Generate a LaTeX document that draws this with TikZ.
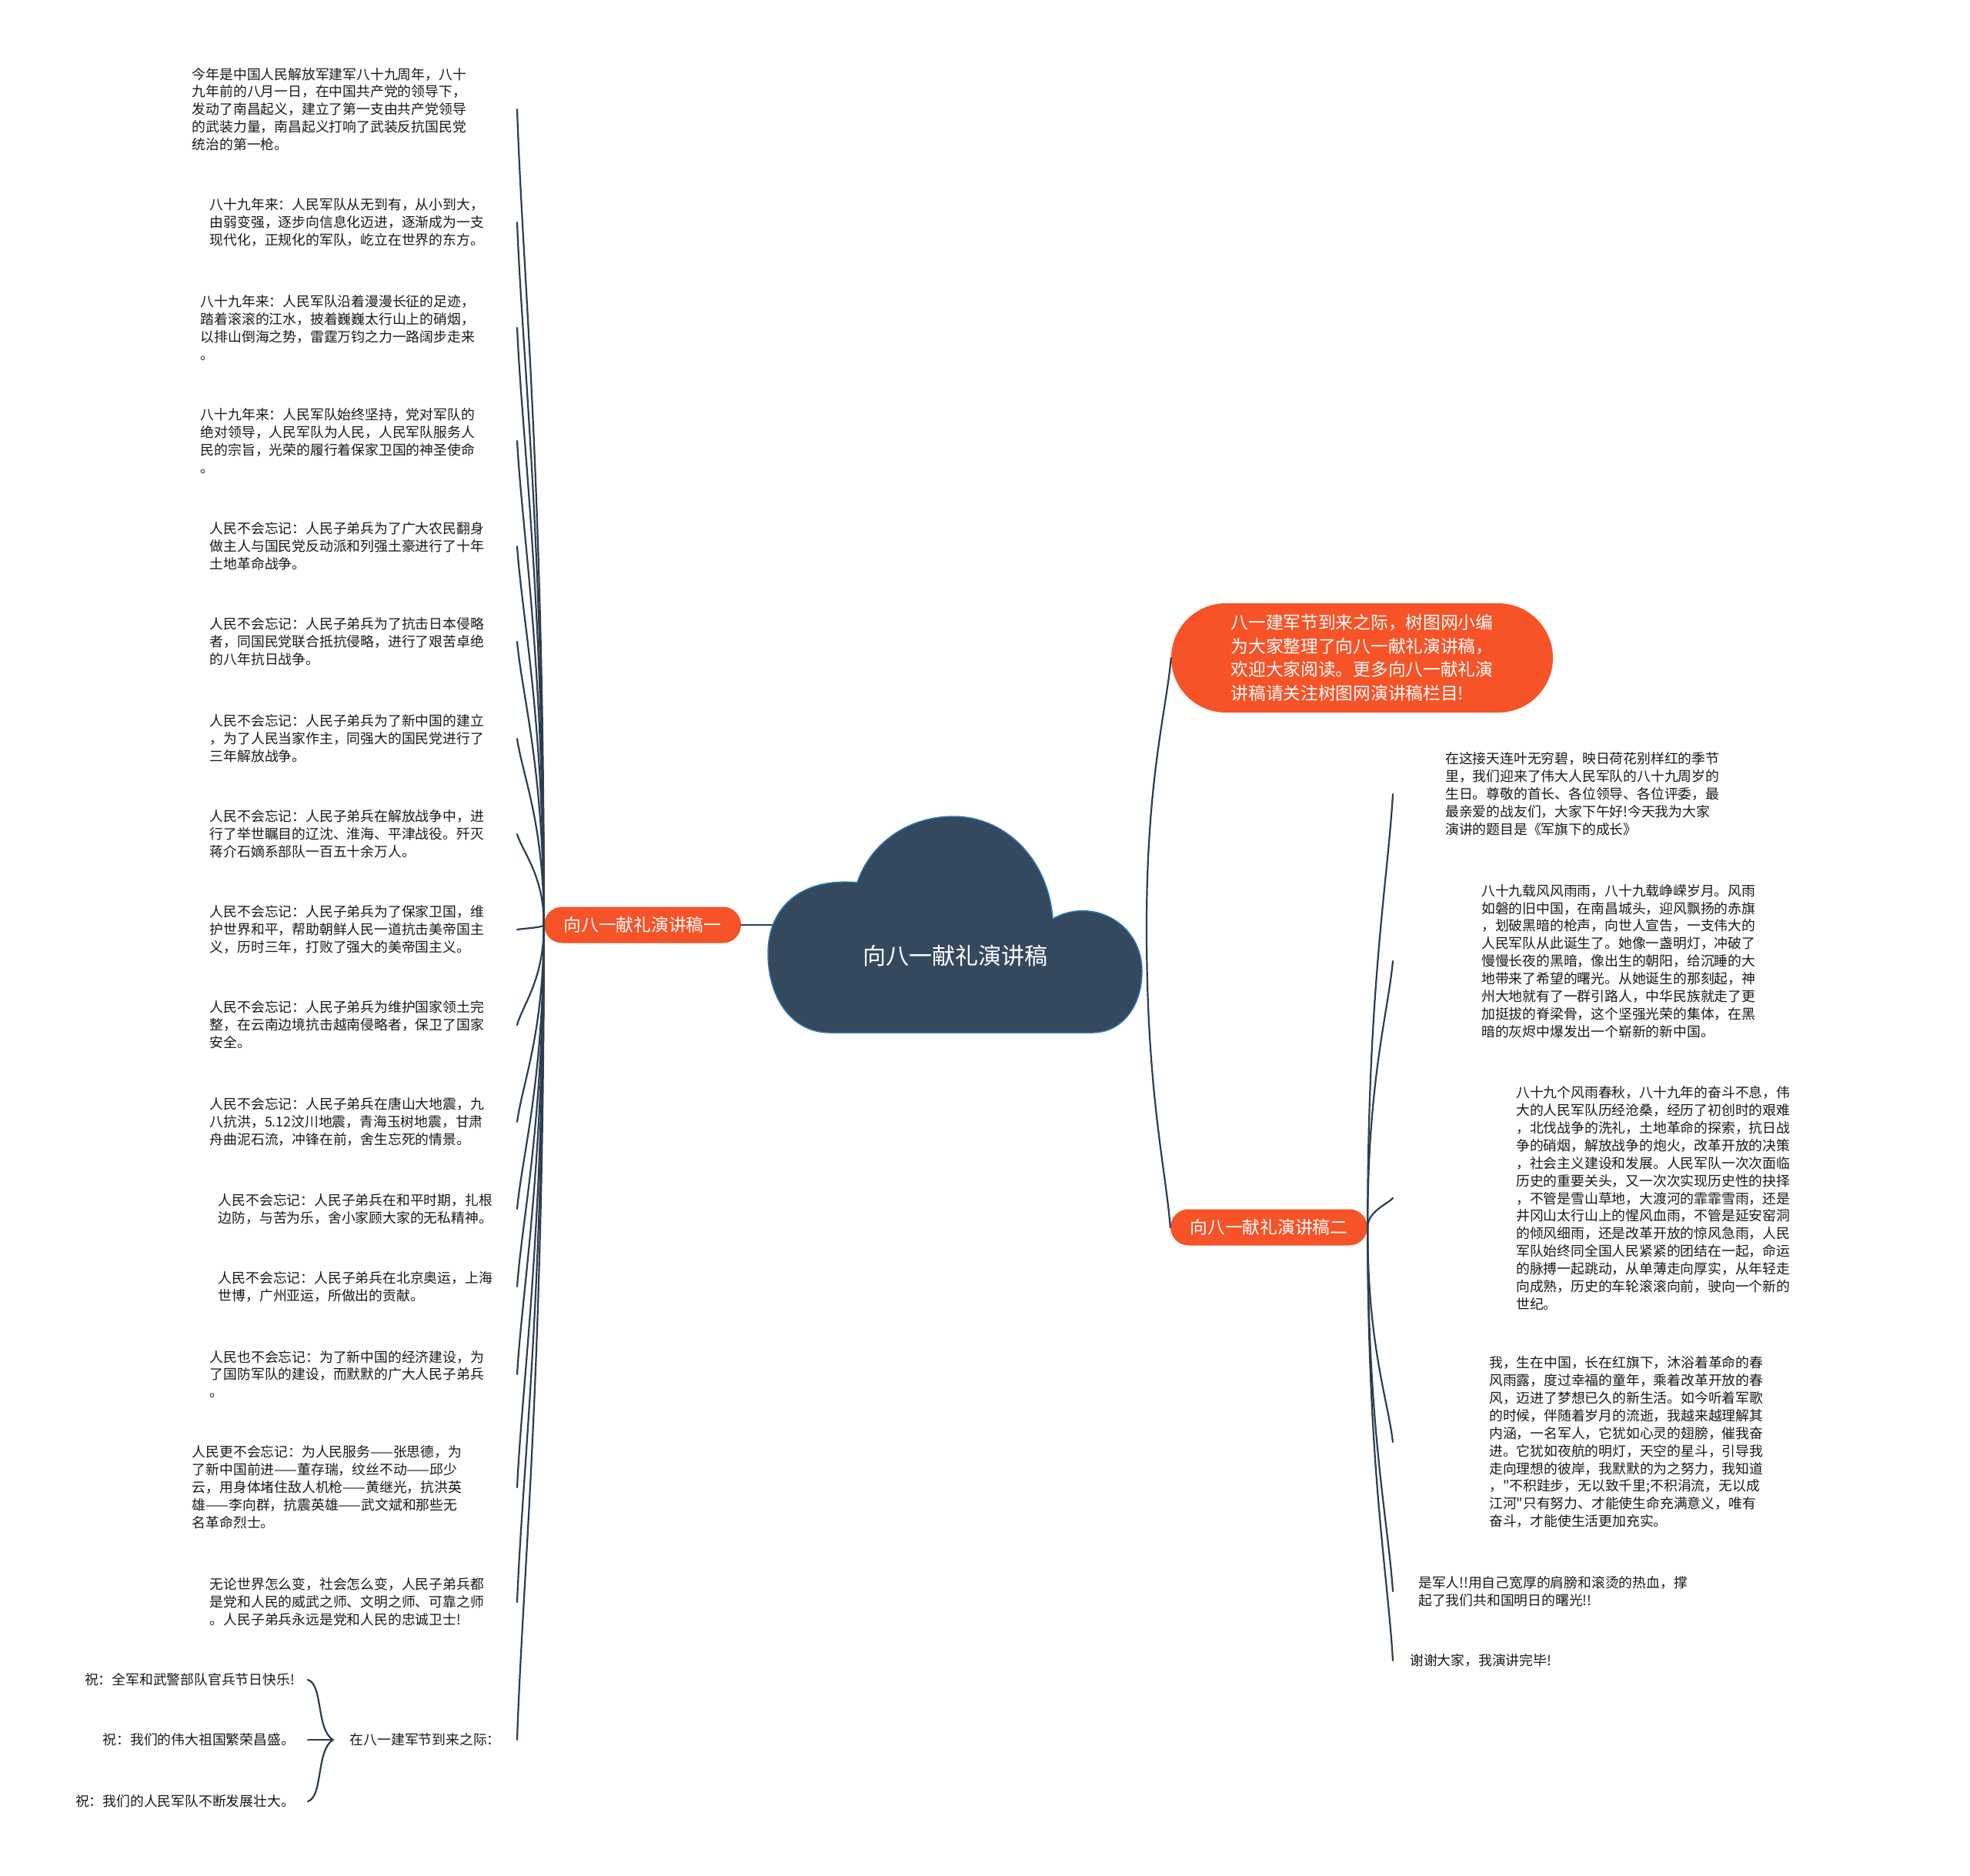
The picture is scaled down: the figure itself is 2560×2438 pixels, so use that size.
\documentclass[tikz,border=0pt]{standalone}
\usepackage{fontspec}
\usepackage{xcolor}
\usepackage{tikz}
\usetikzlibrary{shapes.misc, calc}
\newfontfamily\cjk{Noto Sans CJK SC}
\definecolor{branchred}{RGB}{246,83,40}
\definecolor{rootblue}{RGB}{52,73,94}
\definecolor{rootedge}{RGB}{46,117,182}
\definecolor{linkdark}{RGB}{44,62,80}
\definecolor{leaftext}{RGB}{25,25,25}
\tikzset{
  rootlabel/.style={
    font=\cjk\fontsize{30}{36}\selectfont,
    text=white,
    inner sep=0pt
  },
  branch/.style={
    rounded rectangle,
    fill=branchred,
    text=white,
    minimum width=256pt,
    minimum height=47pt,
    inner sep=0pt,
    font=\cjk\fontsize{22.7}{30.5}\selectfont
  },
  intro/.style={
    branch,
    minimum width=496pt,
    minimum height=142pt,
    align=left
  },
  lleaf/.style={
    anchor=east,
    text width=#1pt,
    align=left,
    inner sep=0pt,
    text=leaftext,
    font=\cjk\fontsize{17.8}{22.9}\selectfont
  },
  rleaf/.style={
    anchor=west,
    inner ysep=0pt,
    inner xsep=#1pt,
    align=left,
    text=leaftext,
    font=\cjk\fontsize{17.8}{22.9}\selectfont
  },
  wish/.style={
    anchor=east,
    inner sep=0pt,
    text=leaftext,
    font=\cjk\fontsize{17.8}{22.9}\selectfont
  },
  linkline/.style={
    draw=linkdark,
    line width=2.2pt,
    line cap=round
  },
  leafline/.style={
    linkline,
    to path={.. controls ($(\tikztostart)!0.55!(\tikztostart |- \tikztotarget)$)
      and ($(\tikztotarget)!0.2!(\tikztostart)$) .. (\tikztotarget)}
  },
  wishbrace/.style={
    draw=linkdark,
    line width=2.2pt,
    line cap=round
  }
}

\begin{document}
\begin{tikzpicture}[x=1pt, y=-1pt]

  \fill[white] (0,0) rectangle (2560,2438);
  \useasboundingbox (0,0) rectangle (2560,2438);

  % --- BRANCHES ---
  \node (B1) [branch] at (835,1202) {向八一献礼演讲稿一};
  \node (T) [intro] at (1770,855) {八一建军节到来之际，树图网小编\\为大家整理了向八一献礼演讲稿，\\欢迎大家阅读。更多向八一献礼演\\讲稿请关注树图网演讲稿栏目!};
  \node (B2) [branch] at (1649,1595) {向八一献礼演讲稿二};

  \coordinate (rootW) at (1005,1202);
  \coordinate (rootE) at (1490,1205);

  \draw[linkline] (B1.east) -- (rootW);
  \draw[leafline] (rootE) to (T.west);
  \draw[leafline] (rootE) to (B2.west);

  % --- ROOT CLOUD ---
  \filldraw[fill=rootblue, draw=rootedge, line width=1.5pt]
    (998,1239) .. controls (998,1180) and (1040,1140) .. (1114,1147)
    .. controls (1130,1098) and (1178,1061) .. (1239,1061)
    .. controls (1305,1061) and (1362,1115) .. (1368,1194)
    .. controls (1420,1165) and (1484,1200) .. (1484,1262)
    .. controls (1484,1310) and (1456,1342) .. (1420,1342)
    -- (1078,1342)
    .. controls (1030,1342) and (998,1298) .. (998,1239) -- cycle;
  \node (root) [rootlabel] at (1241,1242) {向八一献礼演讲稿};

  % --- LEFT SIDE ---
  \node (L1) [lleaf=422] at (672,142) {今年是中国人民解放军建军八十九周年，八十\\九年前的八月一日，在中国共产党的领导下，\\发动了南昌起义，建立了第一支由共产党领导\\的武装力量，南昌起义打响了武装反抗国民党\\统治的第一枪。};
  \node (L2) [lleaf=399] at (672,289) {八十九年来：人民军队从无到有，从小到大，\\由弱变强，逐步向信息化迈进，逐渐成为一支\\现代化，正规化的军队，屹立在世界的东方。};
  \node (L3) [lleaf=411] at (672,426) {八十九年来：人民军队沿着漫漫长征的足迹，\\踏着滚滚的江水，披着巍巍太行山上的硝烟，\\以排山倒海之势，雷霆万钧之力一路阔步走来\\。};
  \node (L4) [lleaf=411] at (672,573) {八十九年来：人民军队始终坚持，党对军队的\\绝对领导，人民军队为人民，人民军队服务人\\民的宗旨，光荣的履行着保家卫国的神圣使命\\。};
  \node (L5) [lleaf=399] at (672,710) {人民不会忘记：人民子弟兵为了广大农民翻身\\做主人与国民党反动派和列强土豪进行了十年\\土地革命战争。};
  \node (L6) [lleaf=399] at (672,834) {人民不会忘记：人民子弟兵为了抗击日本侵略\\者，同国民党联合抵抗侵略，进行了艰苦卓绝\\的八年抗日战争。};
  \node (L7) [lleaf=399] at (672,960) {人民不会忘记：人民子弟兵为了新中国的建立\\，为了人民当家作主，同强大的国民党进行了\\三年解放战争。};
  \node (L8) [lleaf=399] at (672,1084) {人民不会忘记：人民子弟兵在解放战争中，进\\行了举世瞩目的辽沈、淮海、平津战役。歼灭\\蒋介石嫡系部队一百五十余万人。};
  \node (L9) [lleaf=399] at (672,1208) {人民不会忘记：人民子弟兵为了保家卫国，维\\护世界和平，帮助朝鲜人民一道抗击美帝国主\\义，历时三年，打败了强大的美帝国主义。};
  \node (L10) [lleaf=399] at (672,1332) {人民不会忘记：人民子弟兵为维护国家领土完\\整，在云南边境抗击越南侵略者，保卫了国家\\安全。};
  \node (L11) [lleaf=399] at (672,1458) {人民不会忘记：人民子弟兵在唐山大地震，九\\八抗洪，5.12汶川地震，青海玉树地震，甘肃\\舟曲泥石流，冲锋在前，舍生忘死的情景。};
  \node (L12) [lleaf=388] at (672,1571) {人民不会忘记：人民子弟兵在和平时期，扎根\\边防，与苦为乐，舍小家顾大家的无私精神。};
  \node (L13) [lleaf=388] at (672,1672) {人民不会忘记：人民子弟兵在北京奥运，上海\\世博，广州亚运，所做出的贡献。};
  \node (L14) [lleaf=399] at (672,1786) {人民也不会忘记：为了新中国的经济建设，为\\了国防军队的建设，而默默的广大人民子弟兵\\。};
  \node (L15) [lleaf=422] at (672,1933) {人民更不会忘记：为人民服务——张思德，为\\了新中国前进——董存瑞，纹丝不动——邱少\\云，用身体堵住敌人机枪——黄继光，抗洪英\\雄——李向群，抗震英雄——武文斌和那些无\\名革命烈士。};
  \node (L16) [lleaf=399] at (672,2082) {无论世界怎么变，社会怎么变，人民子弟兵都\\是党和人民的威武之师、文明之师、可靠之师\\。人民子弟兵永远是党和人民的忠诚卫士!};
  \node (L17) [lleaf=217] at (672,2261) {在八一建军节到来之际：};

  \draw[leafline] (B1.west) to (L1.east);
  \draw[leafline] (B1.west) to (L2.east);
  \draw[leafline] (B1.west) to (L3.east);
  \draw[leafline] (B1.west) to (L4.east);
  \draw[leafline] (B1.west) to (L5.east);
  \draw[leafline] (B1.west) to (L6.east);
  \draw[leafline] (B1.west) to (L7.east);
  \draw[leafline] (B1.west) to (L8.east);
  \draw[leafline] (B1.west) to (L9.east);
  \draw[leafline] (B1.west) to (L10.east);
  \draw[leafline] (B1.west) to (L11.east);
  \draw[leafline] (B1.west) to (L12.east);
  \draw[leafline] (B1.west) to (L13.east);
  \draw[leafline] (B1.west) to (L14.east);
  \draw[leafline] (B1.west) to (L15.east);
  \draw[leafline] (B1.west) to (L16.east);
  \draw[leafline] (B1.west) to (L17.east);

  % Wishes under the last item
  \node (W1) [wish] at (383,2183) {祝：全军和武警部队官兵节日快乐!};
  \node (W2) [wish] at (383,2261) {祝：我们的伟大祖国繁荣昌盛。};
  \node (W3) [wish] at (383,2341) {祝：我们的人民军队不断发展壮大。};

  \coordinate (tip) at ($(L17.west)+(-22,0)$);
  \draw[wishbrace] ([xshift=17pt]W1.east) .. controls +(20,6) and +(-22,-14) .. (tip)
    .. controls +(-22,14) and +(20,-6) .. ([xshift=17pt]W3.east);
  \draw[wishbrace] ([xshift=17pt]W2.east) -- (tip);

  % --- RIGHT SIDE ---
  \node (R1) [rleaf=68] at (1810,1032) {在这接天连叶无穷碧，映日荷花别样红的季节\\里，我们迎来了伟大人民军队的八十九周岁的\\生日。尊敬的首长、各位领导、各位评委，最\\最亲爱的战友们，大家下午好!今天我为大家\\演讲的题目是《军旗下的成长》};
  \node (R2) [rleaf=115] at (1810,1249) {八十九载风风雨雨，八十九载峥嵘岁月。风雨\\如磐的旧中国，在南昌城头，迎风飘扬的赤旗\\，划破黑暗的枪声，向世人宣告，一支伟大的\\人民军队从此诞生了。她像一盏明灯，冲破了\\慢慢长夜的黑暗，像出生的朝阳，给沉睡的大\\地带来了希望的曙光。从她诞生的那刻起，神\\州大地就有了一群引路人，中华民族就走了更\\加挺拔的脊梁骨，这个坚强光荣的集体，在黑\\暗的灰烬中爆发出一个崭新的新中国。};
  \node (R3) [rleaf=160] at (1810,1557) {八十九个风雨春秋，八十九年的奋斗不息，伟\\大的人民军队历经沧桑，经历了初创时的艰难\\，北伐战争的洗礼，土地革命的探索，抗日战\\争的硝烟，解放战争的炮火，改革开放的决策\\，社会主义建设和发展。人民军队一次次面临\\历史的重要关头，又一次次实现历史性的抉择\\，不管是雪山草地，大渡河的霏霏雪雨，还是\\井冈山太行山上的惺风血雨，不管是延安窑洞\\的倾风细雨，还是改革开放的惊风急雨，人民\\军队始终同全国人民紧紧的团结在一起，命运\\的脉搏一起跳动，从单薄走向厚实，从年轻走\\向成熟，历史的车轮滚滚向前，驶向一个新的\\世纪。};
  \node (R4) [rleaf=125] at (1810,1874) {我，生在中国，长在红旗下，沐浴着革命的春\\风雨露，度过幸福的童年，乘着改革开放的春\\风，迈进了梦想已久的新生活。如今听着军歌\\的时候，伴随着岁月的流逝，我越来越理解其\\内涵，一名军人，它犹如心灵的翅膀，催我奋\\进。它犹如夜航的明灯，天空的星斗，引导我\\走向理想的彼岸，我默默的为之努力，我知道\\，"不积跬步，无以致千里;不积涓流，无以成\\江河"只有努力、才能使生命充满意义，唯有\\奋斗，才能使生活更加充实。};
  \node (R5) [rleaf=33] at (1810,2068) {是军人!!用自己宽厚的肩膀和滚烫的热血，撑\\起了我们共和国明日的曙光!!};
  \node (R6) [rleaf=22] at (1810,2158) {谢谢大家，我演讲完毕!};

  \draw[leafline] (B2.east) to (R1.west);
  \draw[leafline] (B2.east) to (R2.west);
  \draw[leafline] (B2.east) to (R3.west);
  \draw[leafline] (B2.east) to (R4.west);
  \draw[leafline] (B2.east) to (R5.west);
  \draw[leafline] (B2.east) to (R6.west);

\end{tikzpicture}
\end{document}
